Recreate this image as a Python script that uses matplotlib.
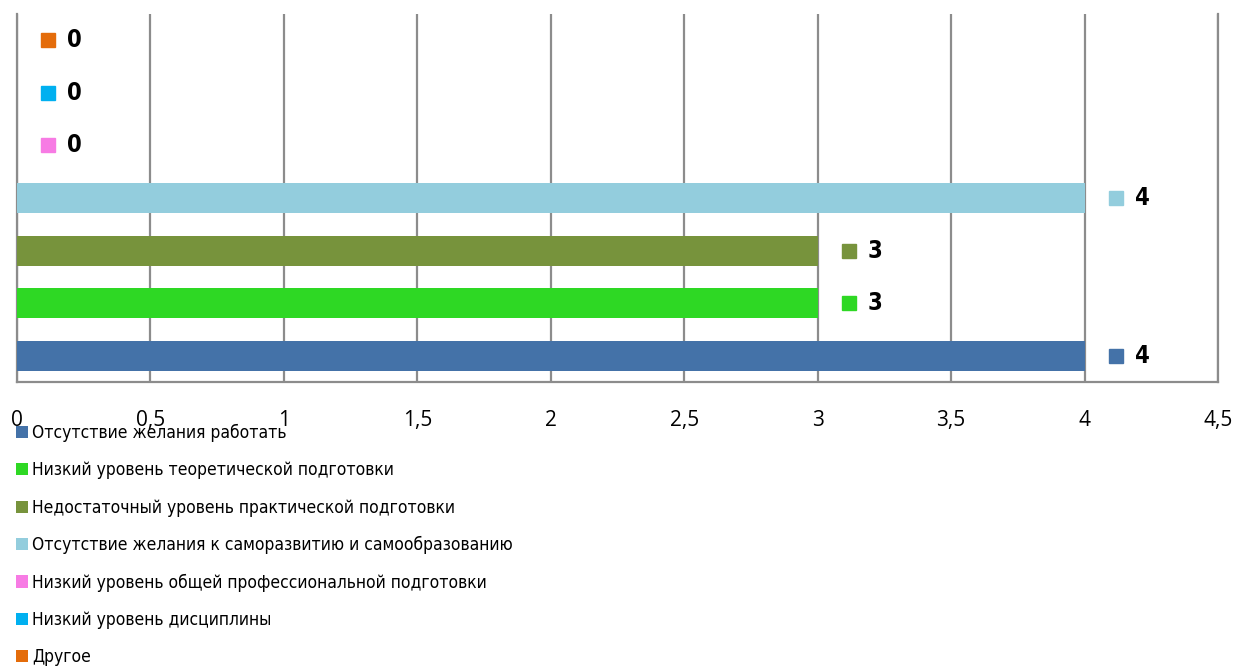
import matplotlib
matplotlib.use("Agg")
from matplotlib import pyplot as plt
from matplotlib import font_manager
from matplotlib.patches import Patch
from matplotlib.transforms import offset_copy

# series (one bar each), bottom to top
labels = ["Отсутствие желания работать",
          "Низкий уровень теоретической подготовки",
          "Недостаточный уровень практической подготовки",
          "Отсутствие желания к саморазвитию и самообразованию",
          "Низкий уровень общей профессиональной подготовки",
          "Низкий уровень дисциплины",
          "Другое"]
values = [4, 3, 3, 4, 0, 0, 0]
colors = ["#4472A8", "#2ED824", "#77933C", "#93CDDD", "#F77BE4", "#00B0F0", "#E46C0A"]
xticks = [0, 0.5, 1, 1.5, 2, 2.5, 3, 3.5, 4, 4.5]
xticklabels = ["0", "0,5", "1", "1,5", "2", "2,5", "3", "3,5", "4", "4,5"]

# narrow font if one is installed, else condensed DejaVu
names = {f.name for f in font_manager.fontManager.ttflist}
if "Liberation Sans Narrow" in names:
    narrow = dict(family=["Liberation Sans Narrow", "DejaVu Sans"])
else:
    narrow = dict(family=["DejaVu Sans"], stretch="condensed")

fig = plt.figure(figsize=(12.35, 6.69), dpi=100)
ax = fig.add_axes([17 / 1235, 1 - 382 / 669, 1201 / 1235, 368 / 669])

ypos = list(range(len(values)))
ax.barh(ypos, values, height=0.57, color=colors, zorder=3)

ax.set_xlim(0, 4.5)
ax.set_ylim(-0.5, 6.5)
ax.set_xticks(xticks)
ax.set_xticklabels(xticklabels, fontsize=15, family=["Open Sans", "DejaVu Sans"])
ax.set_yticks([])
ax.tick_params(axis="x", length=0, pad=20)
ax.grid(axis="x", color="#8c8c8c", linewidth=1.6, zorder=0)
ax.spines["top"].set_visible(False)
for s in ["left", "right", "bottom"]:
    ax.spines[s].set_color("#8c8c8c")
    ax.spines[s].set_linewidth(1.6)

# data labels: legend key square + bold value
mark_tr = offset_copy(ax.transData, fig=fig, x=22.5, y=0, units="points")
text_tr = offset_copy(ax.transData, fig=fig, x=36, y=0, units="points")
for y, v, c in zip(ypos, values, colors):
    ax.plot([v], [y], marker="s", markersize=10, color=c, linestyle="none",
            transform=mark_tr, clip_on=False, zorder=4)
    ax.text(v, y, str(v), transform=text_tr, fontsize=17, fontweight="bold",
            ha="left", va="center", zorder=4, **narrow)

handles = [Patch(facecolor=c, edgecolor="none") for c in colors]
prop = font_manager.FontProperties(size=12.5, **narrow)
fig.legend(handles, labels, loc="upper left", bbox_to_anchor=(16 / 1235, 1 - 424 / 669),
           frameon=False, prop=prop,
           handlelength=0.7, handleheight=0.7, handletextpad=0.25,
           labelspacing=1.11, borderpad=0, borderaxespad=0)

fig.savefig("out.png", dpi=100)
